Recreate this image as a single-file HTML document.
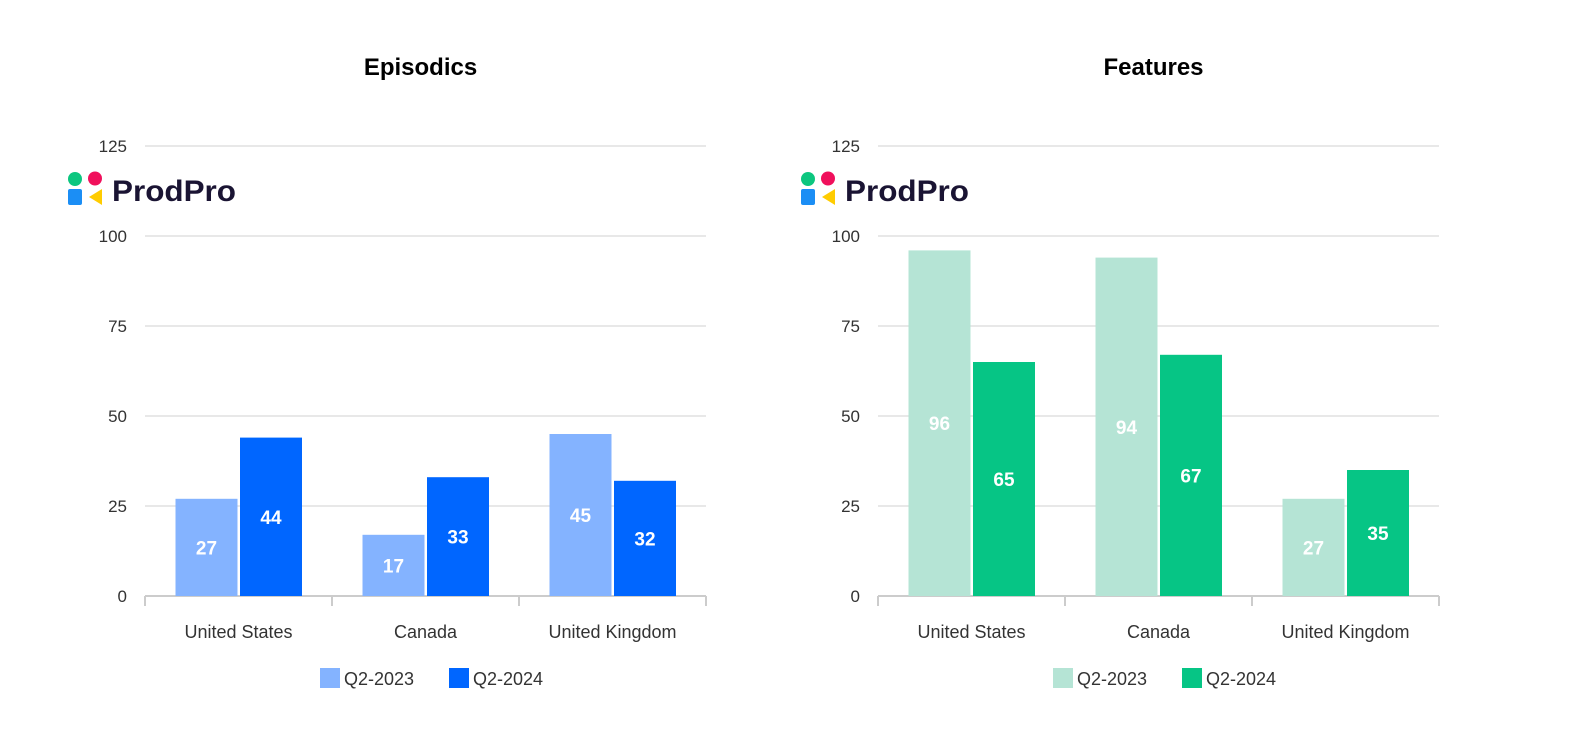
<!DOCTYPE html>
<html><head><meta charset="utf-8"><style>
html,body{margin:0;padding:0;background:#fff;width:1583px;height:750px;overflow:hidden}
svg{display:block;font-family:"Liberation Sans",sans-serif}
</style></head><body>
<svg id="c" width="1583" height="750"></svg>
<script>
const categories=["United States","Canada","United Kingdom"];
const episodics2023=[27,17,45];
const episodics2024=[44,33,32];
const features2023=[96,94,27];
const features2024=[65,67,35];
const yTicks=[0,25,50,75,100,125];
const seriesNames=["Q2-2023","Q2-2024"];
const NS="http://www.w3.org/2000/svg";
const svg=document.getElementById('c');
function mk(tag,attrs,parent,text){const e=document.createElementNS(NS,tag);for(const k in attrs)e.setAttribute(k,attrs[k]);if(text!=null)e.textContent=text;(parent||svg).appendChild(e);return e;}
function chart(x0,title,s1,s2,c1,c2,name){
  const g=mk('g',{});
  
  
  const w=561,y0=596,yTop=146,ymax=125;
  const y=v=>y0-(v/ymax)*(y0-yTop);
  const cw=w/categories.length;
  const t=mk('text',{x:x0+w/2-5,y:75,'text-anchor':'middle','font-size':24,'font-weight':'bold',fill:'#000'},g,title);
  
  
  yTicks.forEach(v=>{
    const l=mk('line',{x1:x0,x2:x0+w,y1:y(v),y2:y(v),stroke:'#e0e0e0','stroke-width':1.5},g);
    
    
    const tl=mk('text',{x:x0-18,y:y(v)+6,'text-anchor':'end','font-size':17,fill:'#333'},g,v);
    
    
  });
  const ax=mk('line',{x1:x0,x2:x0+w,y1:y0,y2:y0,stroke:'#ccc','stroke-width':2},g);
  
  
  for(let i=0;i<=categories.length;i++){const tk=mk('line',{x1:x0+i*cw,x2:x0+i*cw,y1:y0,y2:y0+10,stroke:'#ccc','stroke-width':2},g);
    
    }
  categories.forEach((c,i)=>{
    const cx=x0+cw*(i+0.5);
    const lab=mk('text',{x:cx,y:638,'text-anchor':'middle','font-size':18,fill:'#333'},g,c);
    
    
    [[s1[i],c1,cx-63],[s2[i],c2,cx+1.5]].forEach(([v,col,bx],k)=>{
      const r=mk('rect',{x:bx,y:y(v),width:62,height:y0-y(v),fill:col},g);
      
      
      const tv=mk('text',{x:bx+31,y:(y(v)+y0)/2+7,'text-anchor':'middle','font-size':19,'font-weight':'bold',fill:'#fff'},g,v);
      
      
    });
  });
  const lx=x0+175;
  [[c1,0],[c2,129]].forEach(([col,off],k)=>{
    const lg=mk('g',{},g);
    
    
    mk('rect',{x:lx+off,y:668,width:20,height:20,fill:col},lg);
    mk('text',{x:lx+off+24,y:685,'font-size':18,fill:'#333'},lg,seriesNames[k]);
  });
  const lo=mk('g',{},g);
  
  
  const L=x0-77;
  mk('circle',{cx:L+7,cy:179,r:7,fill:'#0cc67f'},lo);
  mk('circle',{cx:L+27,cy:178.5,r:7,fill:'#f0105c'},lo);
  mk('rect',{x:L,y:189,width:14,height:16,rx:2,fill:'#1b8ef5'},lo);
  mk('polygon',{points:`${L+21},197 ${L+34},189 ${L+34},205`,fill:'#ffcc00'},lo);
  mk('text',{x:L+44,y:201,'font-size':30,'font-weight':'bold',fill:'#1a1433',textLength:124,lengthAdjust:'spacingAndGlyphs'},lo,'ProdPro');
}
chart(145,'Episodics',episodics2023,episodics2024,'#84b3ff','#0066ff','episodics');
chart(878,'Features',features2023,features2024,'#b5e4d5','#06c585','features');
</script>
</body></html>
